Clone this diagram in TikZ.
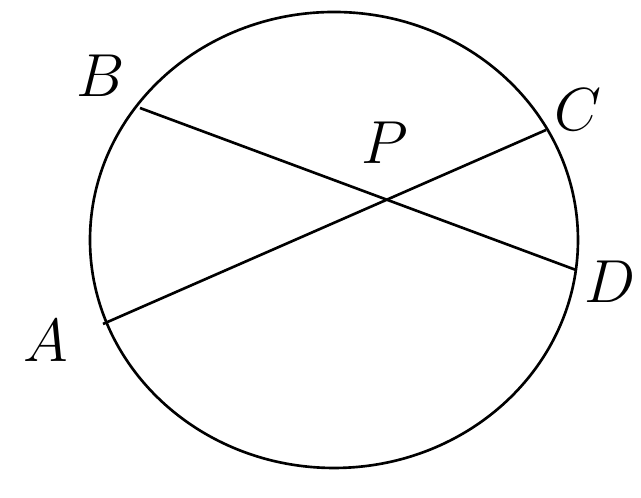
\documentclass[tikz,border=0pt]{standalone}
\usepackage{amsmath}
\usetikzlibrary{calc,intersections}
\tikzset{
  chord/.style={line width=0.75pt,black},
  rim/.style={line width=0.75pt,black},
  lbl/.style={font=\fontsize{19}{22}\selectfont,inner sep=0pt},
}
\begin{document}
\begin{tikzpicture}[x=0.01cm,y=-0.01cm]
  \useasboundingbox (0,0) rectangle (641,498);
  % circle
  \draw[rim] (334,240) ellipse [x radius=244,y radius=228];
  % points on the circle
  \coordinate (B) at (140,108);
  \coordinate (C) at (546,130);
  \coordinate (D) at (576,270);
  \coordinate (A) at (103,324);
  % chords
  \draw[chord,name path=bd] (B) -- (D);
  \draw[chord,name path=ac] (A) -- (C);
  \path[name intersections={of=bd and ac,by=P}];
  % labels
  \node[lbl] (lB) at (101,76) {$B$};
  \node[lbl] (lC) at (578,110) {$C$};
  \node[lbl] (lP) at (385,143) {$P$};
  \node[lbl] (lD) at (610,282) {$D$};
  \node[lbl] (lA) at (46,341) {$A$};
\end{tikzpicture}
\end{document}
